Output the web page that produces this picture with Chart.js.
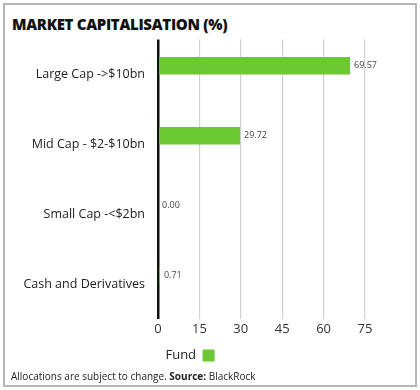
<!DOCTYPE html>
<html>
<head>
<meta charset="utf-8">
<script src="https://cdn.jsdelivr.net/npm/chart.js@4.4.1/dist/chart.umd.min.js"></script>
<style>
  html, body { margin: 0; padding: 0; background: #fff; }
  body { width: 420px; height: 390px; position: relative; font-family: "Open Sans", sans-serif; }
  .frame { position: absolute; left: 3px; top: 3px; width: 410px; height: 380px; border: 2px solid #b5b5b5; }
  .title { position: absolute; left: 7px; top: 9px; font-size: 15px; font-weight: 800; color: #111; letter-spacing: -0.3px; }
  .chartbox { position: absolute; left: 2px; top: 22px; width: 406px; height: 345px; }
  .note { position: absolute; left: 6px; top: 364px; font-size: 10px; color: #222; }
</style>
</head>
<body>
<div class="frame">
  <div class="title">MARKET CAPITALISATION (%)</div>
  <div class="chartbox"><canvas id="chart"></canvas></div>
  <div class="note">Allocations are subject to change. <b>Source:</b> BlackRock</div>
</div>
<script>
const categories = ["Large Cap ->$10bn", "Mid Cap - $2-$10bn", "Small Cap -<$2bn", "Cash and Derivatives"];
const fundValues = [69.57, 29.72, 0.00, 0.71];
const emptyValues = [null, null, null, null];
const xTicks = [0, 15, 30, 45, 60, 75];

const green = '#6cc832';

const valueLabels = {
  id: 'valueLabels',
  afterDatasetsDraw(chart) {
    const ctx = chart.ctx;
    const meta = chart.getDatasetMeta(0);
    ctx.save();
    ctx.font = '9px "Open Sans", sans-serif';
    ctx.fillStyle = '#444';
    ctx.textBaseline = 'middle';
    meta.data.forEach((bar, i) => {
      ctx.fillText(fundValues[i].toFixed(2), bar.x + 4, bar.y);
    });
    ctx.restore();
  }
};

new Chart(document.getElementById('chart'), {
  type: 'bar',
  data: {
    labels: categories,
    datasets: [
      { label: 'Fund', data: fundValues, backgroundColor: green, borderWidth: 0 },
      { label: '', data: emptyValues, backgroundColor: 'transparent' }
    ]
  },
  options: {
    indexAxis: 'y',
    responsive: true,
    maintainAspectRatio: false,
    animation: false,
    layout: { padding: { top: 10, right: 48, left: 8, bottom: 0 } },
    datasets: { bar: { categoryPercentage: 0.5, barPercentage: 1.0 } },
    scales: {
      x: {
        min: 0, max: 75,
        afterBuildTicks: (s) => { s.ticks = xTicks.map(v => ({ value: v })); },
        grid: {
          color: (c) => c.tick && c.tick.value === 0 ? '#111' : '#d0d0d0',
          lineWidth: (c) => c.tick && c.tick.value === 0 ? 2.5 : 1.2,
          drawTicks: false
        },
        border: { display: false },
        ticks: { color: '#333', font: { size: 13, family: '"Open Sans", sans-serif' }, padding: 2 }
      },
      y: {
        grid: { display: false },
        border: { display: false },
        afterFit: (s) => { s.width = 143; },
        ticks: { color: '#222', font: { size: 12.5, family: '"Open Sans", sans-serif' }, padding: 5 }
      }
    },
    plugins: {
      tooltip: { enabled: false },
      legend: {
        position: 'bottom',
        rtl: true,
        labels: {
          filter: (item) => item.text === 'Fund',
          boxWidth: 12, boxHeight: 12,
          color: '#222',
          font: { size: 13, family: '"Open Sans", sans-serif' },
          padding: 10
        }
      }
    }
  },
  plugins: [valueLabels]
});
</script>
</body>
</html>
